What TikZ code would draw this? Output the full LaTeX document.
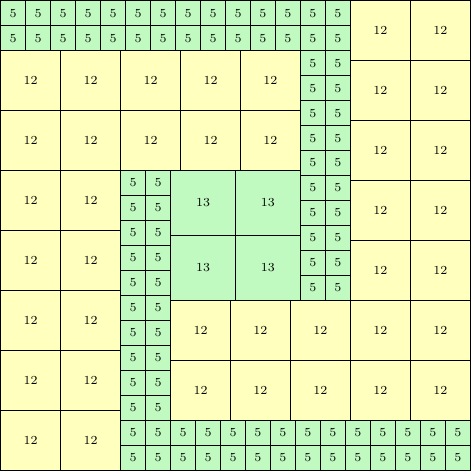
\documentclass[tikz,border=0pt]{standalone}
\definecolor{gfill}{RGB}{192,250,192}
\definecolor{yfill}{RGB}{255,255,190}
\begin{document}
\begin{tikzpicture}[x=1mm,y=-1mm,
  cell/.style={draw=black,line width=0.55pt,inner sep=0pt,outer sep=0pt,font=\fontsize{7}{8}\selectfont},
  five/.style={cell,fill=gfill,minimum size=5mm},
  twelve/.style={cell,fill=yfill,minimum size=12mm},
  thirteen/.style={cell,fill=gfill,minimum size=13mm}]
\useasboundingbox (-0.12,-0.12) rectangle (94.12,94.12);
% top strip of 5s
\foreach \i in {0,...,13} \foreach \j in {0,1}
  \node[five] (t-\i-\j) at (\i*5+2.5,\j*5+2.5) {5};
% right column of 12s
\foreach \i in {0,1} \foreach \j in {0,...,4}
  \node[twelve] (r-\i-\j) at (70+\i*12+6,\j*12+6) {12};
% 5s column at x 60-70
\foreach \i in {0,1} \foreach \j in {0,...,9}
  \node[five] (c-\i-\j) at (60+\i*5+2.5,10+\j*5+2.5) {5};
% top-left 12s block
\foreach \i in {0,...,4} \foreach \j in {0,1}
  \node[twelve] (a-\i-\j) at (\i*12+6,10+\j*12+6) {12};
% left column of 12s
\foreach \i in {0,1} \foreach \j in {0,...,4}
  \node[twelve] (l-\i-\j) at (\i*12+6,34+\j*12+6) {12};
% 5s column at x 24-34
\foreach \i in {0,1} \foreach \j in {0,...,9}
  \node[five] (m-\i-\j) at (24+\i*5+2.5,34+\j*5+2.5) {5};
% 13s
\foreach \i in {0,1} \foreach \j in {0,1}
  \node[thirteen] (h-\i-\j) at (34+\i*13+6.5,34+\j*13+6.5) {13};
% bottom-right 12s
\foreach \i in {0,...,4} \foreach \j in {0,1}
  \node[twelve] (b-\i-\j) at (34+\i*12+6,60+\j*12+6) {12};
% bottom strip of 5s
\foreach \i in {0,...,13} \foreach \j in {0,1}
  \node[five] (s-\i-\j) at (24+\i*5+2.5,84+\j*5+2.5) {5};
\end{tikzpicture}
\end{document}
